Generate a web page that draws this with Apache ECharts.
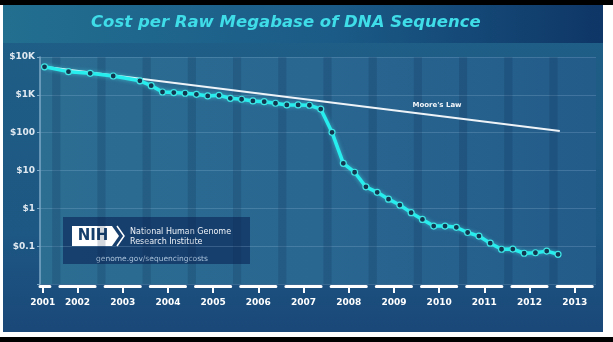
<!DOCTYPE html>
<html>
<head>
<meta charset="utf-8">
<script src="https://cdn.jsdelivr.net/npm/echarts@6/dist/echarts.min.js"></script>
<style>
  html, body { margin: 0; padding: 0; background: #fff; }
  #wrap { position: relative; width: 613px; height: 342px; overflow: hidden; background: #fff; }
  #topbar { position: absolute; left: 0; top: 0; width: 613px; height: 5px; background: #000; }
  #panel { position: absolute; left: 3px; top: 5px; width: 600px; height: 327px;
           background: linear-gradient(180deg, #1f5f86 0%, #1d5783 70%, #1a4878 100%); }
  #band { position: absolute; left: 0; top: 0; width: 600px; height: 38px;
          background: linear-gradient(90deg, #226f90 0%, #1b5b87 55%, #0e3666 100%); }
  #botbar { position: absolute; left: 0; top: 337px; width: 613px; height: 5px; background: #000; }
  #chart { position: absolute; left: 0; top: 0; width: 613px; height: 342px; }
</style>
</head>
<body>
<div id="wrap">
  <div id="topbar"></div>
  <div id="panel"><div id="band"></div></div>
  <div id="botbar"></div>
  <div id="chart"></div>
</div>
<script>
// Cost per raw megabase (US$), plotted against fractional year
const costYears = [2001.27, 2001.80, 2002.28, 2002.79, 2003.38, 2003.63, 2003.88, 2004.13,
  2004.38, 2004.63, 2004.88, 2005.13, 2005.38, 2005.63, 2005.88, 2006.13, 2006.38, 2006.63,
  2006.88, 2007.13, 2007.38, 2007.63, 2007.88, 2008.13, 2008.38, 2008.63, 2008.88, 2009.13,
  2009.38, 2009.63, 2009.88, 2010.13, 2010.38, 2010.63, 2010.88, 2011.13, 2011.38, 2011.63,
  2011.88, 2012.13, 2012.38, 2012.63];
const costValues = [5500, 4100, 3700, 3150, 2350, 1750, 1190, 1150,
  1100, 1030, 935, 970, 810, 765, 690, 660, 600, 540,
  540, 530, 420, 102, 15.5, 9.0, 3.7, 2.65, 1.75, 1.22,
  0.77, 0.51, 0.34, 0.34, 0.315, 0.23, 0.185, 0.12, 0.083, 0.084,
  0.065, 0.067, 0.074, 0.061];

// Moore's Law reference line (start and end)
const mooreYears = [2001.27, 2012.67];
const mooreValues = [5500, 110];

// Axis ticks
const xTickPositions = [2001.23, 2002, 2003, 2004, 2005, 2006, 2007, 2008, 2009, 2010, 2011, 2012, 2013];
const xTickLabels = ['2001', '2002', '2003', '2004', '2005', '2006', '2007', '2008', '2009', '2010', '2011', '2012', '2013'];
const yTickValues = [0.01, 0.1, 1, 10, 100, 1000, 10000];
const yTickLabels = ['', '$0.1', '$1', '$10', '$100', '$1K', '$10K'];

// Darker vertical bands of the plot backdrop
const bandCenters = [2001.53, 2002.53, 2003.53, 2004.53, 2005.53, 2006.53, 2007.53, 2008.53,
  2009.53, 2010.53, 2011.53, 2012.53];

const X_MIN = 2001.17, X_MAX = 2013.47;
const FONT = 'DejaVu Sans';

const chart = echarts.init(document.getElementById('chart'), null, { renderer: 'canvas' });

const costData = costYears.map((x, i) => [x, costValues[i]]);
const mooreData = mooreYears.map((x, i) => [x, mooreValues[i]]);
const bandAreas = bandCenters.map(c => [{ xAxis: c - 0.09 }, { xAxis: c + 0.09 }]);

chart.setOption({
  backgroundColor: 'transparent',
  animation: false,
  grid: {
    left: 40, right: 17, top: 57, bottom: 58,
    show: true,
    borderWidth: 0,
    backgroundColor: new echarts.graphic.LinearGradient(0, 0, 1, 0, [
      { offset: 0, color: '#2c6d92' },
      { offset: 0.5, color: '#296690' },
      { offset: 1, color: '#235b89' }
    ])
  },
  xAxis: {
    type: 'value',
    min: X_MIN,
    max: X_MAX,
    offset: 2,
    axisLine: { show: true, lineStyle: { color: '#ffffff', width: 3, type: [35.2, 10], dashOffset: 25.3 } },
    axisTick: { show: true, customValues: xTickPositions, length: 7, lineStyle: { color: '#ffffff', width: 2 } },
    axisLabel: {
      customValues: xTickPositions,
      formatter: v => {
        const i = xTickPositions.findIndex(p => Math.abs(p - v) < 1e-6);
        return i >= 0 ? xTickLabels[i] : '';
      },
      color: '#ffffff', fontFamily: FONT, fontWeight: 'bold', fontSize: 9, margin: 12
    },
    splitLine: { show: false }
  },
  yAxis: {
    type: 'log',
    logBase: 10,
    min: 0.01,
    max: 10000,
    axisLine: { show: true, lineStyle: { color: '#7ea9c6', width: 1.5 } },
    axisTick: { show: true, length: 3, lineStyle: { color: '#7ea9c6' } },
    axisLabel: {
      formatter: v => {
        const i = yTickValues.findIndex(t => Math.abs(Math.log10(t) - Math.log10(v)) < 1e-6);
        return i >= 0 ? yTickLabels[i] : '';
      },
      color: '#dfe8f0', fontFamily: FONT, fontWeight: 'bold', fontSize: 9, margin: 5
    },
    splitLine: { show: true, lineStyle: { color: 'rgba(170,205,230,0.22)', width: 1 } }
  },
  series: [
    {
      name: "Moore's Law",
      type: 'line',
      data: mooreData,
      symbol: 'none',
      z: 2,
      lineStyle: { color: '#eef3f8', width: 2 },
      markArea: {
        silent: true,
        itemStyle: { color: 'rgba(12,40,75,0.18)' },
        data: bandAreas
      }
    },
    {
      name: 'Cost per Raw Megabase',
      type: 'line',
      data: costData,
      z: 3,
      symbol: 'circle',
      symbolSize: 6,
      lineStyle: { color: '#27eeee', width: 3.5, shadowColor: 'rgba(80,255,255,0.5)', shadowBlur: 4 },
      itemStyle: { color: '#12364f', borderColor: '#3ee6e6', borderWidth: 1.2 }
    }
  ],
  graphic: [
    {
      type: 'text', left: 91, top: 14, z: 10,
      style: {
        text: 'Cost per Raw Megabase of DNA Sequence',
        font: 'italic bold 16.5px "DejaVu Sans"',
        fill: '#3fdde8'
      }
    },
    {
      type: 'text', x: 437, y: 105.5, z: 10,
      style: {
        text: "Moore's Law", align: 'center', verticalAlign: 'middle',
        font: 'bold 7px "DejaVu Sans"', fill: '#f2f6fa'
      }
    },
    {
      type: 'group', z: 10,
      children: [
        { type: 'rect', shape: { x: 63, y: 217, width: 187, height: 47 },
          style: { fill: 'rgba(22,60,108,0.93)' } },
        { type: 'polygon', shape: { points: [[72, 226], [112, 226], [119, 236], [112, 246], [72, 246]] },
          style: { fill: '#ffffff' } },
        { type: 'polyline', shape: { points: [[117, 226], [124, 236], [117, 246]] },
          style: { stroke: '#ffffff', lineWidth: 1.5, fill: null } },
        { type: 'text', x: 93, y: 236.5,
          style: { text: 'NIH', align: 'center', verticalAlign: 'middle',
                   font: 'bold 15px "DejaVu Sans"', fill: '#173f6c' } },
        { type: 'text', x: 130, y: 232,
          style: { text: 'National Human Genome', verticalAlign: 'middle',
                   font: '8px "DejaVu Sans"', fill: '#eef3f8' } },
        { type: 'text', x: 130, y: 241.5,
          style: { text: 'Research Institute', verticalAlign: 'middle',
                   font: '8px "DejaVu Sans"', fill: '#eef3f8' } },
        { type: 'text', x: 152, y: 259,
          style: { text: 'genome.gov/sequencingcosts', align: 'center', verticalAlign: 'middle',
                   font: '7.5px "DejaVu Sans"', fill: '#a9c2da' } }
      ]
    }
  ]
});
</script>
</body>
</html>
